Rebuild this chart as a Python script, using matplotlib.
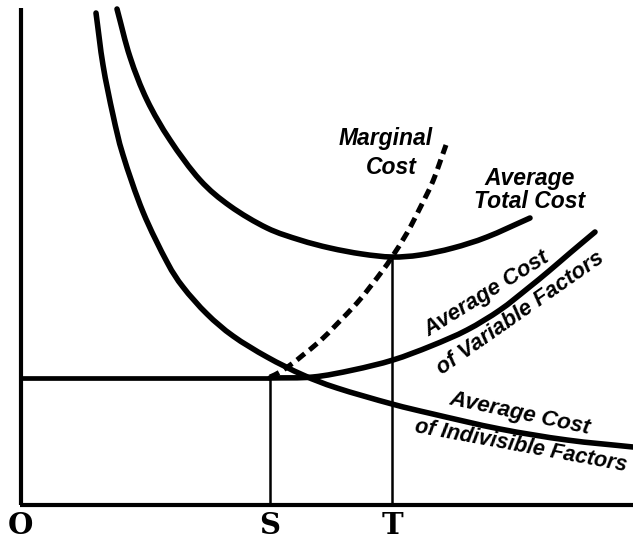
import matplotlib
matplotlib.use("Agg")
import matplotlib.pyplot as plt
import numpy as np
from matplotlib.path import Path
from matplotlib.patches import PathPatch

# Quantity (x) and cost (y) readings
atc_q = [96, 109, 126, 149, 179, 209, 246, 279, 309, 341, 371, 399, 432, 466, 509]
atc_c = [496, 448, 405, 365, 325, 299, 277, 265, 257, 251, 248, 250, 257, 268, 287]

afc_q = [75, 82, 92, 102, 122, 146, 162, 186, 212, 246, 282, 316, 371, 412, 479, 546, 612]
afc_c = [492, 440, 390, 350, 293, 243, 218, 191, 169, 148, 130, 117, 101, 91, 76, 65, 58]

avc_q = [0, 249, 292, 332, 372, 410, 446, 479, 506, 528, 549, 574]
avc_c = [127, 127, 128, 135, 145, 159, 175, 195, 216, 234, 252, 273]

mc_q = [249, 259, 272, 282, 299, 316, 336, 349, 362, 371, 386, 399, 412, 425]
mc_c = [128, 133, 142, 150, 164, 181, 202, 218, 235, 248, 272, 297, 324, 360]

q_S, c_S = 249, 127
q_T, c_T = 371, 248
x_max, y_max = 612, 497

axis_labels = ["O", "S", "T"]
axis_label_q = [-1, q_S, q_T]


def smooth_path(xs, ys):
    """Bezier path through the given points (Catmull-Rom tangents)."""
    p = np.column_stack([xs, ys]).astype(float)
    n = len(p)
    m = np.zeros_like(p)
    m[1:-1] = (p[2:] - p[:-2]) / 2.0
    m[0] = p[1] - p[0]
    m[-1] = p[-1] - p[-2]
    verts = [p[0]]
    codes = [Path.MOVETO]
    for i in range(n - 1):
        verts += [p[i] + m[i] / 3.0, p[i + 1] - m[i + 1] / 3.0, p[i + 1]]
        codes += [Path.CURVE4] * 3
    return Path(verts, codes)


def draw_curve(ax, xs, ys, lw, ls="solid", cap="round"):
    patch = PathPatch(smooth_path(xs, ys), fill=False, edgecolor="black", lw=lw,
                      linestyle=ls, capstyle=cap, joinstyle="round")
    ax.add_patch(patch)


fig = plt.figure(figsize=(6.33, 5.43), dpi=100)
ax = fig.add_axes([0, 0, 1, 1])
ax.set_xlim(-21, 612)
ax.set_ylim(-38, 505)
ax.axis("off")

blk = "black"
# axes
ax.plot([0, 0], [0, y_max], color=blk, lw=3.0, solid_capstyle="butt")
ax.plot([-1, x_max], [0, 0], color=blk, lw=3.0, solid_capstyle="butt")

# verticals at S and T
ax.plot([q_S, q_S], [0, c_S], color=blk, lw=1.8)
ax.plot([q_T, q_T], [0, c_T], color=blk, lw=1.8)

# curves
draw_curve(ax, atc_q, atc_c, 4.0)
draw_curve(ax, afc_q, afc_c, 4.0)
ax.plot(avc_q[:2], avc_c[:2], color=blk, lw=3.4, solid_capstyle="butt")
draw_curve(ax, avc_q[1:], avc_c[1:], 4.0)
draw_curve(ax, mc_q, mc_c, 3.6, ls=(0, (2.0, 1.2)), cap="butt")

# labels
lab = dict(fontweight="bold", fontstyle="italic", family="Liberation Sans",
           ha="center", va="center", color=blk)
ax.text(365, 367, "Marginal", fontsize=16.5, **lab)
ax.text(370, 338, "Cost", fontsize=16.5, **lab)
ax.text(509, 327, "Average", fontsize=16.5, **lab)
ax.text(509, 303, "Total Cost", fontsize=16.5, **lab)
ax.text(466, 211, "Average Cost", rotation=32, rotation_mode="anchor", fontsize=16, **lab)
ax.text(499, 192, "of Variable Factors", rotation=35, rotation_mode="anchor", fontsize=16, **lab)
ax.text(499, 91, "Average Cost", rotation=-12, rotation_mode="anchor", fontsize=16, **lab)
ax.text(500, 59, "of Indivisible Factors", rotation=-10.5, rotation_mode="anchor",
        fontsize=15.5, **lab)

for t, q in zip(axis_labels, axis_label_q):
    ax.text(q, -21, t, fontsize=21, fontweight="bold", family="DejaVu Serif",
            ha="center", va="center", color=blk)

fig.savefig("out.png", dpi=100, facecolor="white")
